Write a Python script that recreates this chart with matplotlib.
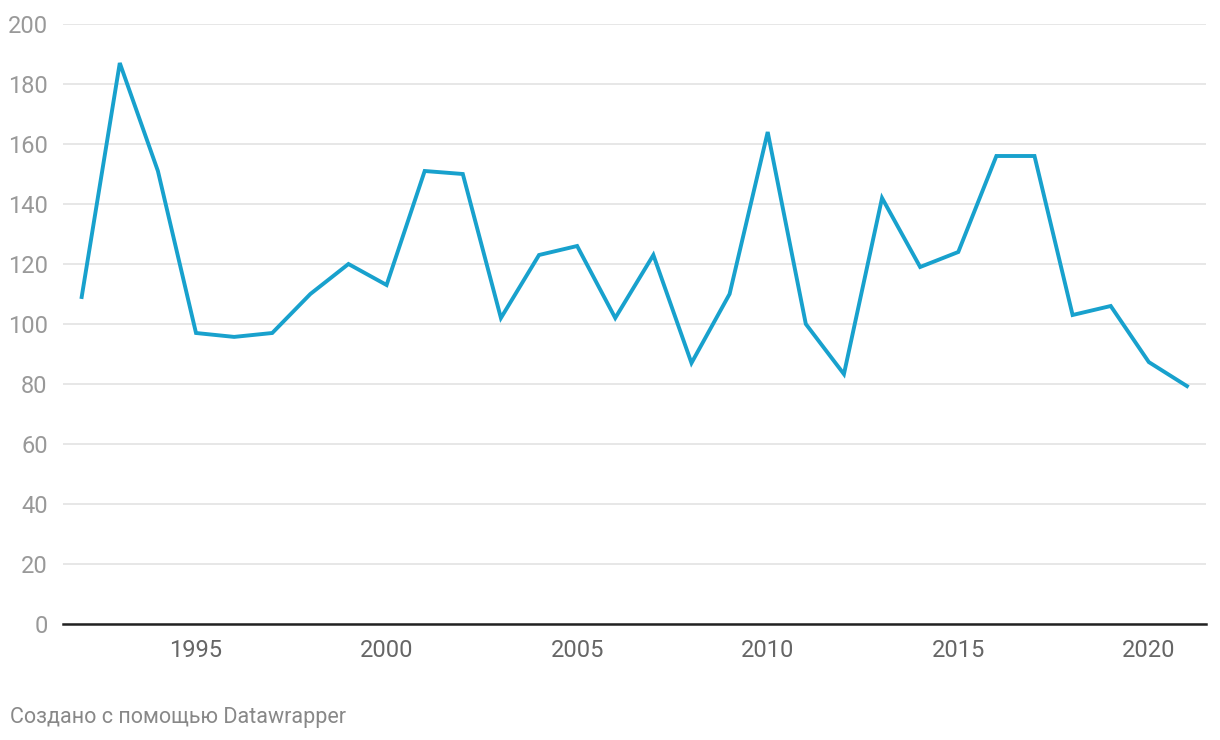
import matplotlib
matplotlib.use("Agg")
import matplotlib.pyplot as plt

# Values
years = list(range(1992, 2022))
values = [109, 187, 151, 97, 95.7, 97, 110, 120, 113, 151,
          150, 102, 123, 126, 102, 123, 87, 110, 164, 100,
          83.3, 142, 119, 124, 156, 156, 103, 106, 87.3, 79.3]
y_ticks = [0, 20, 40, 60, 80, 100, 120, 140, 160, 180, 200]
x_ticks = [1995, 2000, 2005, 2010, 2015, 2020]
footer = "Создано с помощью Datawrapper"

plt.rcParams['font.family'] = ['Roboto', 'DejaVu Sans']

fig = plt.figure(figsize=(12.2, 7.4), dpi=100)
ax = fig.add_axes([63 / 1220, 116 / 740, 1143 / 1220, 600 / 740])

ax.plot(years, values, color='#18a1cd', linewidth=2.8, solid_joinstyle='miter', zorder=3)

ax.set_xlim(1991.51, 2021.5)
ax.set_ylim(0, 200)
ax.set_yticks(y_ticks)
ax.set_xticks(x_ticks)
ax.grid(axis='y', color='#e3e3e3', linewidth=1.2, zorder=0)

for side in ['top', 'right', 'left']:
    ax.spines[side].set_visible(False)
ax.spines['bottom'].set_color('#222222')
ax.spines['bottom'].set_linewidth(1.8)
ax.spines['bottom'].set_zorder(4)

ax.tick_params(axis='y', length=0, pad=11, labelsize=17, labelcolor='#999999')
ax.tick_params(axis='x', length=0, pad=11, labelsize=17, labelcolor='#666666')

fig.text(10 / 1220, 1 - 717 / 740, footer, fontsize=15.5, color='#888888',
         ha='left', va='center')

fig.savefig('out.png', dpi=100)
